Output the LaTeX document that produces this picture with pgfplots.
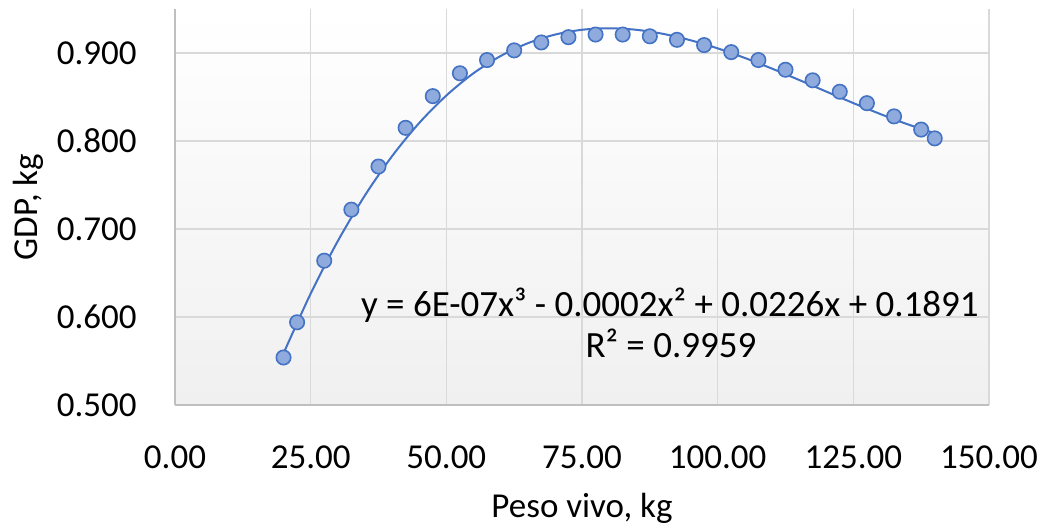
\documentclass[border=0pt]{standalone}
\usepackage{fontspec}
\setmainfont{Carlito}
\usepackage{pgfplots}
\pgfplotsset{compat=1.18}
\definecolor{trend}{HTML}{4472C4}
\definecolor{mfill}{HTML}{8FAADC}
\definecolor{gridc}{HTML}{D9D9D9}
\definecolor{axisc}{HTML}{BFBFBF}
\definecolor{bgbot}{HTML}{F0F0F0}
\begin{document}
\begin{tikzpicture}
\useasboundingbox (-87.5pt,-61pt) rectangle (436.5pt,202.5pt);
\begin{axis}[
  at={(0,0)}, anchor=south west,
  scale only axis, width=407pt, height=198pt,
  xmin=0, xmax=150, ymin=0.5, ymax=0.95,
  xtick={0,25,50,75,100,125,150},
  ytick={0.5,0.6,0.7,0.8,0.9},
  axis x line*=bottom, axis y line*=left,
  axis line style={-, draw=axisc, line width=0.9pt},
  grid=major, major grid style={draw=gridc, line width=0.8pt},
  major tick length=0pt,
  axis background/.style={shade, top color=white, bottom color=bgbot},
  /pgf/number format/assume math mode=true,
  tick label style={font=\fontsize{17.5}{21}\selectfont, text=black},
  x tick label style={/pgf/number format/fixed, /pgf/number format/fixed zerofill, /pgf/number format/precision=2, anchor=north, inner sep=0pt, yshift=-20pt},
  y tick label style={/pgf/number format/fixed, /pgf/number format/fixed zerofill, /pgf/number format/precision=3, anchor=east, inner sep=0pt, xshift=-19pt},
  xlabel={Peso vivo, kg},
  ylabel={GDP, kg},
  xlabel style={at={(axis description cs:0.5,-0.2601)}, anchor=center, font=\fontsize{17.5}{21}\selectfont},
  ylabel style={at={(axis description cs:-0.1806,0.5)}, anchor=center, rotate=0, font=\fontsize{17.5}{21}\selectfont},
]
\addplot[trend, line width=1pt, smooth, no marks] coordinates {
(20,0.5587) (25,0.6266) (30,0.6863) (35,0.7382) (40,0.7828) (45,0.8205)
(50,0.8517) (55,0.8770) (60,0.8966) (65,0.9111) (70,0.9209) (75,0.9264)
(80,0.9281) (85,0.9264) (90,0.9217) (95,0.9145) (100,0.9053) (105,0.8944)
(110,0.8823) (115,0.8694) (120,0.8562) (125,0.8431) (130,0.8306) (135,0.8190)
(140,0.8089)
};
\addplot[only marks, mark=*, mark size=3.6pt, mark options={draw=trend, fill=mfill, line width=0.8pt}] coordinates {
(20,0.554) (22.5,0.594) (27.5,0.664) (32.5,0.722) (37.5,0.771) (42.5,0.815)
(47.5,0.851) (52.5,0.877) (57.5,0.892) (62.5,0.903) (67.5,0.912) (72.5,0.918)
(77.5,0.921) (82.5,0.921) (87.5,0.919) (92.5,0.915) (97.5,0.909) (102.5,0.901)
(107.5,0.892) (112.5,0.881) (117.5,0.869) (122.5,0.856) (127.5,0.843) (132.5,0.828)
(137.5,0.813) (140,0.803)
};
\node[anchor=base, inner sep=0pt, font=\fontsize{18.5}{22}\selectfont] at (axis cs:91.2,0.6009) {y = 6E-07x³ - 0.0002x² + 0.0226x + 0.1891};
\node[anchor=base, inner sep=0pt, font=\fontsize{18.5}{22}\selectfont] at (axis cs:91.4,0.5544) {R² = 0.9959};
\end{axis}
\end{tikzpicture}
\end{document}
